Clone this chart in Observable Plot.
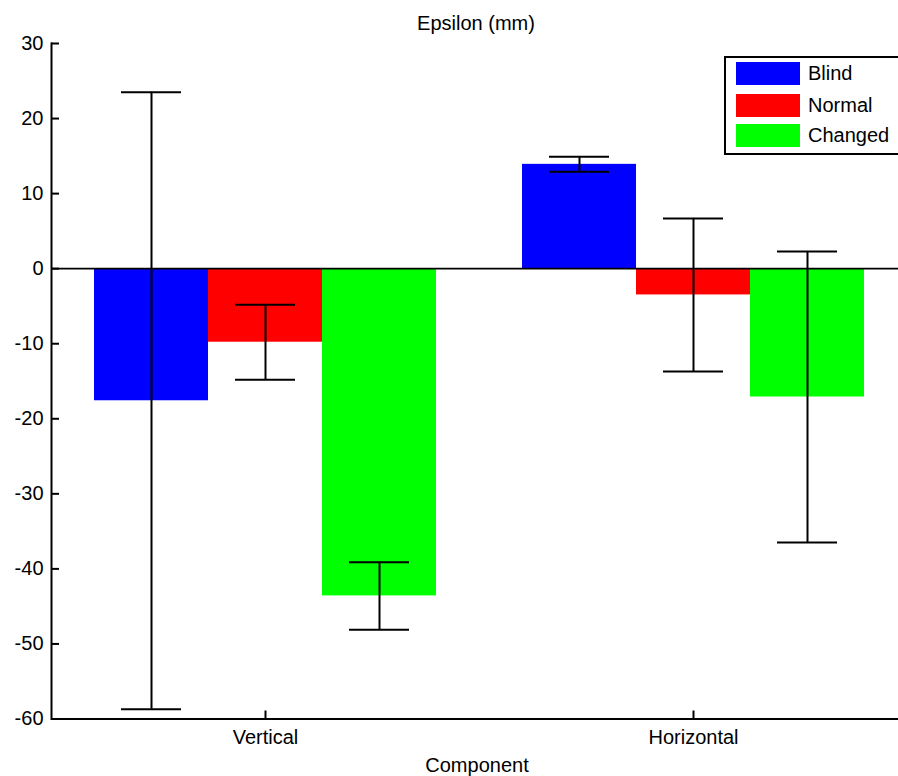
<!DOCTYPE html>
<html>
<head>
<meta charset="utf-8">
<script src="https://cdn.jsdelivr.net/npm/d3@7"></script>
<script src="https://cdn.jsdelivr.net/npm/@observablehq/plot@0.6"></script>
<style>
  html, body { margin: 0; background: #fff; overflow: hidden; }
  #wrap { position: relative; width: 898px; height: 776px; overflow: hidden; background: #fff;
          font-family: "Liberation Sans", Arial, sans-serif; color: #000; }
  #chart { position: absolute; left: 0; top: 0; width: 907px; }
  #chart svg { max-width: none !important; }
  #title { position: absolute; top: 11px; left: 326px; width: 300px; text-align: center; font-size: 20px; line-height: 24px; }
  #xlabel { position: absolute; top: 753px; left: 327px; width: 300px; text-align: center; font-size: 20px; line-height: 24px; }
  #legend { position: absolute; left: 724px; top: 56px; width: 200px; height: 99px; border: 2px solid #000; background: #fff; box-sizing: border-box; }
  .item { position: absolute; left: 10px; height: 23px; display: flex; align-items: center; font-size: 20px; }
  .sw { width: 64px; height: 23px; margin-right: 8px; }
</style>
</head>
<body>
<div id="wrap">
  <div id="chart"></div>
  <div id="title"></div>
  <div id="xlabel"></div>
  <div id="legend"></div>
</div>
<script>
// ---- data ----
const components = ["Vertical", "Horizontal"];
const series = ["Blind", "Normal", "Changed"];
const seriesColors = ["#0000ff", "#ff0000", "#00ff00"];
const verticalMeans = [-17.6, -9.8, -43.6];
const verticalErrors = [41.1, 5.0, 4.5];
const horizontalMeans = [13.9, -3.5, -17.1];
const horizontalErrors = [1.0, 10.2, 19.4];
const yTicks = [30, 20, 10, 0, -10, -20, -30, -40, -50, -60];
const titleText = "Epsilon (mm)";
const xLabelText = "Component";

// ---- table built from the arrays ----
const rows = [];
series.forEach((s, i) => {
  rows.push({component: components[0], series: s, mean: verticalMeans[i], err: verticalErrors[i]});
  rows.push({component: components[1], series: s, mean: horizontalMeans[i], err: horizontalErrors[i]});
});

const chart = Plot.plot({
  width: 907,
  height: 776,
  marginTop: 43,
  marginBottom: 57.5,
  marginLeft: 51,
  marginRight: 0,
  style: {fontFamily: "'Liberation Sans', Arial, sans-serif", fontSize: "20px", background: "transparent", color: "#000", maxWidth: "none"},
  fx: {domain: components, padding: 0, label: null},
  x: {domain: series, paddingInner: 0, paddingOuter: 0.366, axis: null},
  y: {domain: [-60, 30], label: null, axis: null},
  color: {domain: series, range: seriesColors},
  marks: [
    Plot.barY(rows, {fx: "component", x: "series", y: "mean", fill: "series"}),
    Plot.ruleY([0], {stroke: "#000", strokeWidth: 1.8}),
    Plot.ruleX(rows, {fx: "component", x: "series", y1: d => d.mean - d.err, y2: d => d.mean + d.err, stroke: "#000", strokeWidth: 2}),
    Plot.tickY(rows, {fx: "component", x: "series", y: d => d.mean - d.err, insetLeft: 27, insetRight: 27, stroke: "#000", strokeWidth: 2}),
    Plot.tickY(rows, {fx: "component", x: "series", y: d => d.mean + d.err, insetLeft: 27, insetRight: 27, stroke: "#000", strokeWidth: 2}),
    Plot.ruleY([-60], {stroke: "#000", strokeWidth: 2}),
    Plot.frame({anchor: "left", facet: "super", stroke: "#000", strokeWidth: 2}),
    Plot.axisY({ticks: yTicks, tickSize: 0, tickPadding: 8, tickFormat: d => String(d), label: null, fontSize: 20}),
    Plot.axisY({ticks: yTicks, tickSize: -8, text: null, label: null, strokeWidth: 2}),
    Plot.axisFx({anchor: "bottom", tickSize: 0, tickPadding: 11, label: null, fontSize: 20}),
    Plot.axisFx({anchor: "bottom", tickSize: -8, text: null, label: null, strokeWidth: 2})
  ]
});
document.getElementById("chart").appendChild(chart);

document.getElementById("title").textContent = titleText;
document.getElementById("xlabel").textContent = xLabelText;

const legend = document.getElementById("legend");
const legendTops = [4, 36, 66];
series.forEach((s, i) => {
  const item = document.createElement("div");
  item.className = "item";
  item.style.top = legendTops[i] + "px";
  const sw = document.createElement("div");
  sw.className = "sw";
  sw.style.background = seriesColors[i];
  const label = document.createElement("span");
  label.textContent = s;
  item.appendChild(sw);
  item.appendChild(label);
  legend.appendChild(item);
});
</script>
</body>
</html>
